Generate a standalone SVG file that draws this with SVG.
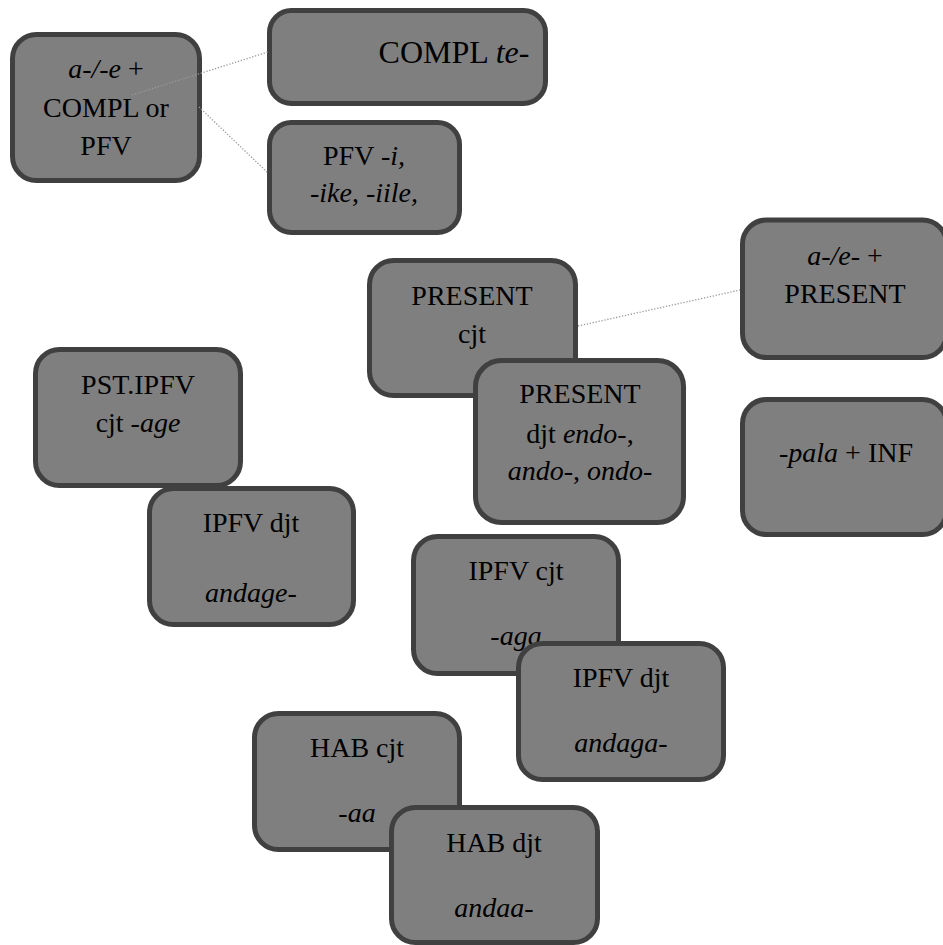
<svg xmlns="http://www.w3.org/2000/svg" width="943" height="945" viewBox="0 0 943 945">
<defs>
<style>
.box{fill:#7f7f7f;stroke:#404040;stroke-width:5}
.conn{stroke:#9a9a9a;stroke-width:1.3;stroke-dasharray:1.3 1.7;fill:none}
</style>
</defs>
<rect width="943" height="945" fill="#fff"/>
<g font-family="Liberation Serif" font-size="28" text-anchor="middle" fill="#000">
<g id="n-a-e-compl-pfv">
<rect class="box" x="12.5" y="34.5" width="187" height="146" rx="24"/>
<text x="106" y="78"><tspan font-style="italic">a-/-e</tspan> +</text>
<text x="106" y="117">COMPL or</text>
<text x="106" y="155">PFV</text>
</g>
<g id="n-compl-te">
<rect class="box" x="269.5" y="10.5" width="276" height="93" rx="22"/>
<text x="454" y="63" font-size="32">COMPL <tspan font-style="italic">te</tspan>-</text>
</g>
<g id="n-pfv">
<rect class="box" x="269.5" y="122.5" width="190" height="110" rx="22"/>
<text x="364" y="165">PFV <tspan font-style="italic">-i,</tspan></text>
<text x="364" y="202"><tspan font-style="italic">-ike</tspan>, <tspan font-style="italic">-iile,</tspan></text>
</g>
<g id="n-present-cjt">
<rect class="box" x="369.5" y="260.5" width="206" height="135" rx="24"/>
<text x="472" y="305">PRESENT</text>
<text x="472" y="343">cjt</text>
</g>
<g id="n-present-djt">
<rect class="box" x="475.5" y="360.5" width="208" height="162" rx="26"/>
<text x="580" y="403">PRESENT</text>
<text x="580" y="443">djt <tspan font-style="italic">endo</tspan>-,</text>
<text x="580" y="480"><tspan font-style="italic">ando</tspan>-, <tspan font-style="italic">ondo-</tspan></text>
</g>
<g id="n-a-e-present">
<rect class="box" x="742.5" y="220" width="204" height="137.5" rx="24"/>
<text x="845" y="265"><tspan font-style="italic">a-/e-</tspan> +</text>
<text x="845" y="303">PRESENT</text>
</g>
<g id="n-pala-inf">
<rect class="box" x="742.5" y="399.5" width="204" height="135" rx="24"/>
<text x="846" y="462"><tspan font-style="italic">-pala</tspan> + INF</text>
</g>
<g id="n-pst-ipfv">
<rect class="box" x="35.5" y="349.5" width="205" height="136" rx="24"/>
<text x="138" y="394">PST.IPFV</text>
<text x="138" y="432">cjt -<tspan font-style="italic">age</tspan></text>
</g>
<g id="n-ipfv-djt-andage">
<rect class="box" x="149.5" y="488.5" width="204" height="136" rx="24"/>
<text x="251" y="532">IPFV djt</text>
<text x="251" y="602" font-style="italic">andage-</text>
</g>
<g id="n-ipfv-cjt">
<rect class="box" x="413.5" y="536.5" width="205" height="137" rx="24"/>
<text x="516" y="580">IPFV cjt</text>
<text x="516" y="645" font-style="italic">-aga</text>
</g>
<g id="n-ipfv-djt-andaga">
<rect class="box" x="518.5" y="643.5" width="205" height="136" rx="24"/>
<text x="621" y="687">IPFV djt</text>
<text x="621" y="752" font-style="italic">andaga-</text>
</g>
<g id="n-hab-cjt">
<rect class="box" x="254.5" y="713.5" width="205" height="136" rx="24"/>
<text x="357" y="757">HAB cjt</text>
<text x="357" y="822" font-style="italic">-aa</text>
</g>
<g id="n-hab-djt">
<rect class="box" x="391.5" y="807.5" width="206" height="135" rx="24"/>
<text x="494" y="852">HAB djt</text>
<text x="494" y="917" font-style="italic">andaa-</text>
</g>
</g>
<g id="connectors">
<line class="conn" x1="132" y1="95" x2="268" y2="52"/>
<line class="conn" x1="199" y1="107" x2="268" y2="173"/>
<line class="conn" x1="578" y1="326" x2="740" y2="290"/>
</g>
</svg>
